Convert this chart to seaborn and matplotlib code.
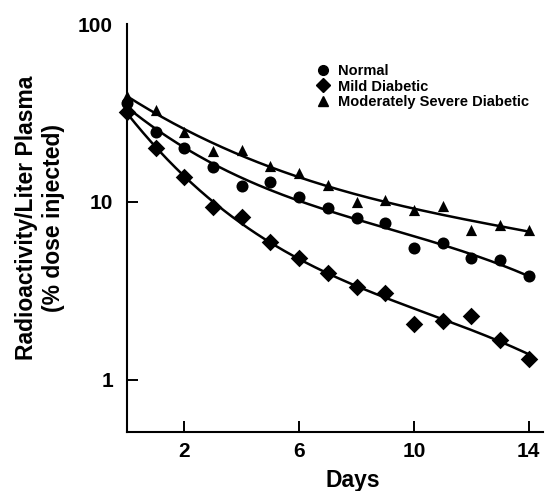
import numpy as np
import pandas as pd
import matplotlib
matplotlib.use("Agg")
import matplotlib.pyplot as plt
import seaborn as sns
from matplotlib.lines import Line2D

days = [0, 1, 2, 3, 4, 5, 6, 7, 8, 9, 10, 11, 12, 13, 14]
normal = [36, 24.7, 20.1, 15.7, 12.3, 12.9, 10.7, 9.25, 8.1, 7.6, 5.5, 5.9, 4.85, 4.7, 3.84]
mild = [32, 20.1, 13.8, 9.4, 8.2, 5.96, 4.85, 3.99, 3.33, 3.08, 2.06, 2.14, 2.29, 1.68, 1.31]
moderate = [39.4, 32.9, 24.7, 19.3, 19.5, 15.9, 14.5, 12.5, 10.0, 10.3, 9.0, 9.5, 6.96, 7.4, 6.96]
groups = ["Normal", "Mild Diabetic", "Moderately Severe Diabetic"]
x_ticks = [2, 6, 10, 14]
y_ticks = [1, 10, 100]

sns.set_style("ticks")
plt.rcParams["font.family"] = ["Liberation Sans", "DejaVu Sans"]
for k in ["text.color", "axes.labelcolor", "xtick.color", "ytick.color", "axes.edgecolor"]:
    plt.rcParams[k] = "black"

df = pd.DataFrame({
    "Days": days * 3,
    "Value": normal + mild + moderate,
    "Group": [g for g in groups for _ in days],
})

fig = plt.figure(figsize=(5.47, 4.91), dpi=100)
ax = fig.add_axes([127 / 547, 1 - 432 / 491, 416 / 547, 408 / 491])

# fitted curves (least squares in log space, computed from the data)
fits = []
xs = np.linspace(0, 14, 200)
for g in groups:
    sub = df[df.Group == g]
    coef = np.polyfit(sub.Days, np.log10(sub.Value), 3)
    fits.append(pd.DataFrame({"Days": xs, "Value": 10 ** np.polyval(coef, xs), "Group": g}))
fit_df = pd.concat(fits)
sns.lineplot(data=fit_df, x="Days", y="Value", units="Group", estimator=None,
             color="black", lw=1.8, ax=ax, legend=False)

markers = {"Normal": "o", "Mild Diabetic": "D", "Moderately Severe Diabetic": "^"}
sizes = {"Normal": 75, "Mild Diabetic": 80, "Moderately Severe Diabetic": 65}
for g in groups:
    sns.scatterplot(data=df[df.Group == g], x="Days", y="Value", marker=markers[g],
                    s=sizes[g], color="black", edgecolor="black", linewidth=0,
                    ax=ax, legend=False, clip_on=False, zorder=5)

ax.set_yscale("log")
ax.set_xlim(0, 14.5)
ax.set_ylim(0.51, 100)
ax.set_xticks(x_ticks)
ax.set_xticklabels([str(t) for t in x_ticks], fontsize=15, fontweight="bold")
ax.set_yticks(y_ticks)
ax.set_yticklabels([str(t) for t in y_ticks], fontsize=15, fontweight="bold")
ax.yaxis.set_minor_locator(matplotlib.ticker.NullLocator())
ax.tick_params(axis="both", direction="in", length=8, width=1.4, color="black", labelcolor="black")
ax.tick_params(axis="x", pad=7)
ax.tick_params(axis="y", pad=10)
ax.yaxis.get_major_ticks()[2].tick1line.set_visible(False)
for s in ["top", "right"]:
    ax.spines[s].set_visible(False)
for s in ["left", "bottom"]:
    ax.spines[s].set_linewidth(1.5)
    ax.spines[s].set_color("black")

ax.set_xlabel("Days", fontsize=16.5, fontweight="bold", va="center")
ax.xaxis.set_label_coords((353 - 127) / 416, (432 - 480) / 404)
ax.set_ylabel("Radioactivity/Liter Plasma\n(% dose injected)", fontsize=16.5,
              fontweight="bold", va="center", linespacing=1.25)
ax.yaxis.set_label_coords((40 - 127) / 416, (432 - 220) / 404)

handles = [Line2D([], [], marker=markers[g], color="black", ls="none",
                  markersize={"o": 7, "D": 7, "^": 7}[markers[g]]) for g in groups]
leg = ax.legend(handles, groups, loc="upper left", bbox_to_anchor=((319 - 127) / 416, (432 - 68) / 404),
                frameon=False, handlelength=0.6, handletextpad=0.7, labelspacing=0.08,
                borderaxespad=0, borderpad=0, prop={"size": 10.5, "weight": "bold"})

fig.savefig("out.png", dpi=100, facecolor="white")
